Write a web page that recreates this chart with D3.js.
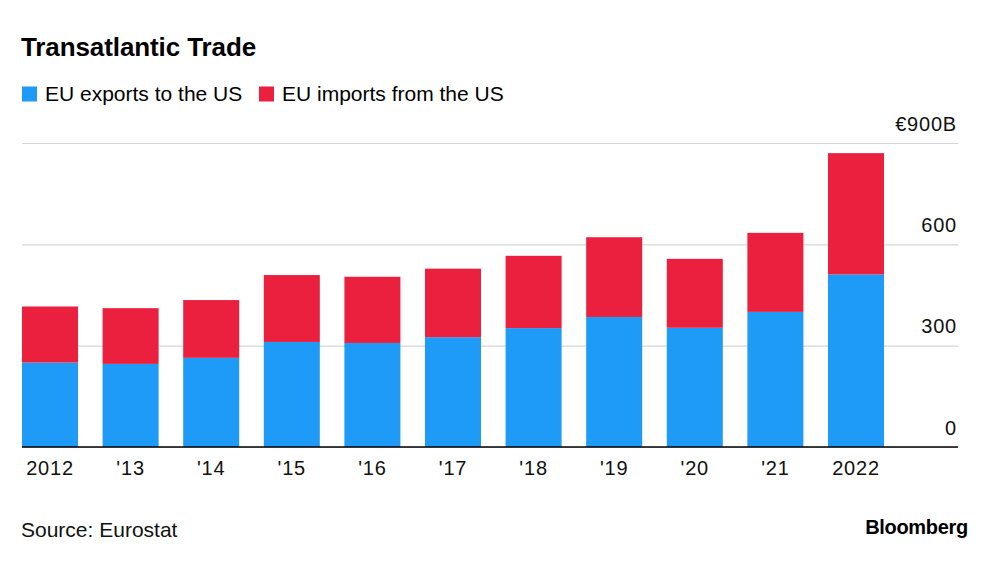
<!DOCTYPE html>
<html>
<head>
<meta charset="utf-8">
<script src="https://cdn.jsdelivr.net/npm/d3@7"></script>
<style>
  html, body { margin: 0; padding: 0; background: #fff; }
  svg { display: block; font-family: 'Liberation Sans', Arial, sans-serif; }
</style>
</head>
<body>
<div id="chart"></div>
<script>
// values (EUR billions)
const years = ['2012', "'13", "'14", "'15", "'16", "'17", "'18", "'19", "'20", "'21", '2022']
const exportsToUS = [250, 246, 264, 311, 308, 325, 352, 385, 353, 400, 511]
const importsFromUS = [166, 165, 171, 198, 196, 203, 214, 236, 204, 234, 359]
const yTicks = [0, 300, 600, 900]
const yTickLabels = ['0', '300', '600', '€900B']
const seriesNames = ['EU exports to the US', 'EU imports from the US']
const colors = ['#1d9bf7', '#eb1f3e']

const width = 1000
const height = 562
const plot = { left: 22, right: 958, top: 143, bottom: 447, barsRight: 884 }

const svg = d3.select('#chart')
  .append('svg')
  .attr('width', width)
  .attr('height', height)

// title
svg.append('text')
  .attr('x', 21)
  .attr('y', 56)
  .attr('font-size', 26)
  .attr('font-weight', 700)
  .attr('letter-spacing', -0.1)
  .attr('fill', '#000')
  .text('Transatlantic Trade')

// legend
const legendX = [22, 259]
const legend = svg.append('g')
seriesNames.forEach((name, i) => {
  legend.append('rect')
    .attr('x', legendX[i])
    .attr('y', 86.5)
    .attr('width', 15)
    .attr('height', 15)
    .attr('fill', colors[i])
  legend.append('text')
    .attr('x', legendX[i] + 23)
    .attr('y', 101)
    .attr('font-size', 21)
    .attr('fill', '#000')
    .text(name)
})

const rows = years.map((year, i) => ({
  year,
  exports: exportsToUS[i],
  imports: importsFromUS[i]
}))

const x = d3.scaleBand()
  .domain(years)
  .range([plot.left, plot.barsRight])
  .paddingInner(0.305)
  .paddingOuter(0)

const y = d3.scaleLinear()
  .domain([0, 900])
  .range([plot.bottom, plot.top])

// gridlines + y labels
const yAxis = d3.axisLeft(y)
  .tickValues(yTicks)
  .tickSize(plot.right - plot.left)
  .tickFormat((d, i) => yTickLabels[i])

const yG = svg.append('g')
  .attr('transform', `translate(${plot.right},0)`)
  .call(yAxis)

yG.select('.domain').remove()
yG.selectAll('.tick line')
  .attr('stroke', '#d6d6d6')
  .attr('stroke-width', 1.2)
yG.selectAll('.tick text')
  .attr('x', -1)
  .attr('y', -13)
  .attr('dy', 0)
  .attr('text-anchor', 'end')
  .attr('font-size', 20)
  .attr('letter-spacing', 0.8)
  .attr('fill', '#111')

// stacked bars
const stack = d3.stack().keys(['exports', 'imports'])
const series = stack(rows)

svg.append('g')
  .selectAll('g')
  .data(series)
  .join('g')
  .attr('fill', (d, i) => colors[i])
  .selectAll('rect')
  .data(d => d)
  .join('rect')
  .attr('x', d => x(d.data.year))
  .attr('y', d => y(d[1]))
  .attr('width', x.bandwidth())
  .attr('height', d => y(d[0]) - y(d[1]))

// baseline
svg.append('line')
  .attr('x1', plot.left)
  .attr('x2', plot.right)
  .attr('y1', y(0))
  .attr('y2', y(0))
  .attr('stroke', '#000')
  .attr('stroke-width', 1.5)

// x labels
const xAxis = d3.axisBottom(x).tickSize(0)
const xG = svg.append('g')
  .attr('transform', `translate(0,${y(0)})`)
  .call(xAxis)

xG.select('.domain').remove()
xG.selectAll('.tick text')
  .attr('y', 28)
  .attr('dy', 0)
  .attr('font-size', 20)
  .attr('letter-spacing', 0.8)
  .attr('fill', '#111')

// footer
svg.append('text')
  .attr('x', 21)
  .attr('y', 537)
  .attr('font-size', 21)
  .attr('fill', '#111')
  .text('Source: Eurostat')

svg.append('text')
  .attr('x', 968)
  .attr('y', 534)
  .attr('text-anchor', 'end')
  .attr('font-size', 20)
  .attr('font-weight', 700)
  .attr('letter-spacing', -0.3)
  .attr('fill', '#000')
  .text('Bloomberg')
</script>
</body>
</html>
